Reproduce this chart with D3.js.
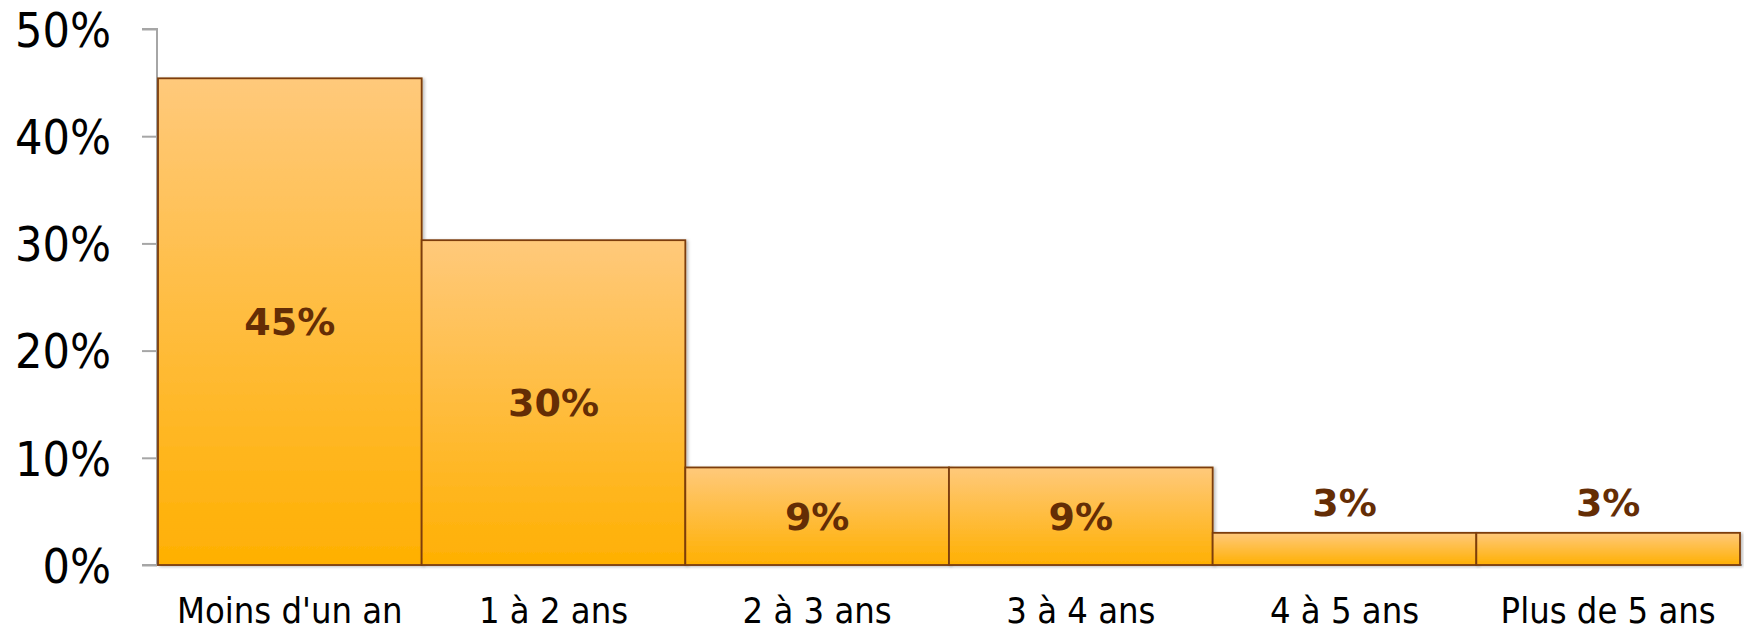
<!DOCTYPE html>
<html>
<head>
<meta charset="utf-8">
<script src="https://cdn.jsdelivr.net/npm/d3@7"></script>
<style>
  html, body { margin: 0; padding: 0; background: #fff; }
  svg { display: block; }
</style>
</head>
<body>
<svg id="chart" width="1744" height="632"></svg>
<script>
const categories = ["Moins d'un an", "1 à 2 ans", "2 à 3 ans", "3 à 4 ans", "4 à 5 ans", "Plus de 5 ans"];
const values = [45.4, 30.3, 9.1, 9.1, 3.0, 3.0];
const yTicks = [0, 10, 20, 30, 40, 50];

(function () {
const svg = d3.select("#chart");
const mLeft = 158, mRight = 1740, mTop = 29, mBottom = 565;

const x = d3.scaleBand().domain(categories).range([mLeft, mRight]).padding(0);
const y = d3.scaleLinear().domain([0, 50]).range([mBottom, mTop]);

const defs = svg.append("defs");
const grad = defs.append("linearGradient").attr("id", "barGrad")
  .attr("x1", 0).attr("y1", 0).attr("x2", 0).attr("y2", 1);
grad.append("stop").attr("offset", "0%").attr("stop-color", "#ffc97b");
grad.append("stop").attr("offset", "100%").attr("stop-color", "#ffb002");

const shadow = defs.append("filter").attr("id", "shadow")
  .attr("x", "-5%").attr("y", "-5%").attr("width", "115%").attr("height", "115%");
shadow.append("feDropShadow").attr("dx", 2).attr("dy", 1).attr("stdDeviation", 1.5)
  .attr("flood-color", "#000").attr("flood-opacity", 0.25);

// Y axis
const yAxis = d3.axisLeft(y).tickValues(yTicks).tickSize(15).tickPadding(31)
  .tickFormat(d => d + "%");
const gy = svg.append("g").attr("transform", `translate(${mLeft - 1},0)`).call(yAxis);
gy.select(".domain").attr("stroke", "#a6a6a6").attr("stroke-width", 2)
  .attr("d", `M-15,${y(50)}H0V${y(0)}H-15`);
gy.selectAll(".tick line").attr("stroke", "#a6a6a6").attr("stroke-width", 2);
gy.selectAll(".tick text")
  .attr("font-family", "'DejaVu Sans Condensed', 'DejaVu Sans', sans-serif")
  .attr("font-stretch", "condensed")
  .attr("font-size", 48).attr("fill", "#000").attr("dy", "0.36em");

// baseline
svg.append("line").attr("x1", mLeft - 1).attr("x2", mRight + 2)
  .attr("y1", y(0)).attr("y2", y(0)).attr("stroke", "#a6a6a6").attr("stroke-width", 2);

// Bars
svg.append("g").selectAll("rect").data(values).join("rect")
  .attr("x", (d, i) => x(categories[i]))
  .attr("y", d => y(d))
  .attr("width", x.bandwidth())
  .attr("height", d => y(0) - y(d))
  .attr("fill", "url(#barGrad)")
  .attr("stroke", "#7d3e0a")
  .attr("stroke-width", 1.8)
  .attr("filter", "url(#shadow)");

// Data labels
svg.append("g").selectAll("text").data(values).join("text")
  .attr("x", (d, i) => x(categories[i]) + x.bandwidth() / 2)
  .attr("y", d => (y(0) - y(d)) > 60 ? (y(d) + y(0)) / 2 : y(d) - 31)
  .attr("dy", "0.36em")
  .attr("text-anchor", "middle")
  .attr("font-family", "'DejaVu Sans', sans-serif")
  .attr("font-weight", "bold")
  .attr("font-size", 38)
  .attr("fill", "#642d05")
  .text(d => Math.round(d) + "%");

// X axis labels
const xAxis = d3.axisBottom(x).tickSize(0).tickPadding(32);
const gx = svg.append("g").attr("transform", `translate(0,${y(0)})`).call(xAxis);
gx.select(".domain").remove();
gx.selectAll(".tick text")
  .attr("font-family", "'DejaVu Sans Condensed', 'DejaVu Sans', sans-serif")
  .attr("font-stretch", "condensed")
  .attr("font-size", 36).attr("fill", "#000").attr("dy", "0.71em");
})();
</script>
</body>
</html>
